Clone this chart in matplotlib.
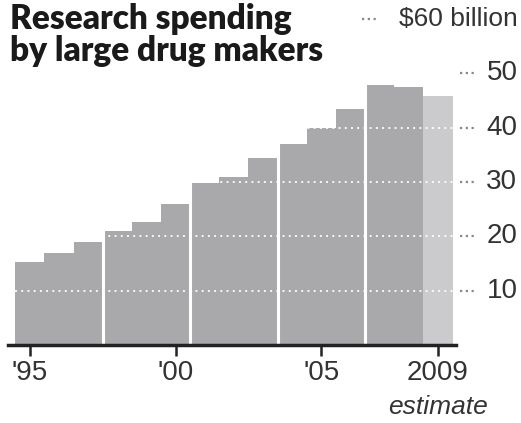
import matplotlib
matplotlib.use('Agg')
import matplotlib.pyplot as plt
import matplotlib.transforms as mtransforms

# R&D spending by large drug makers, billions of dollars (2009 is an estimate)
years = [1995, 1996, 1997, 1998, 1999, 2000, 2001, 2002, 2003, 2004,
         2005, 2006, 2007, 2008, 2009]
spending = [15.2, 16.9, 19.0, 21.0, 22.7, 26.0, 29.8, 31.0, 34.5, 37.0,
            39.9, 43.4, 47.9, 47.4, 45.8]
estimated = [False] * 14 + [True]

grid_values = [10, 20, 30, 40, 50]
tick_years = [1995, 2000, 2005, 2009]
tick_labels = ["'95", "'00", "'05", "2009"]

bar_color = '#a9a9ab'
est_color = '#cbcbcd'
text_color = '#333333'

plt.rcParams['font.family'] = ['Liberation Sans', 'DejaVu Sans']

fig = plt.figure(figsize=(5.21, 4.23), dpi=100)
ax = fig.add_axes([8 / 521, (423 - 345) / 423, 448 / 521, (345 - 19) / 423])

colors = [est_color if e else bar_color for e in estimated]
ax.bar(years, spending, width=1.0, color=colors, linewidth=0, zorder=1)

# white separators every three years
for x in [1997.5, 2000.5, 2003.5, 2006.5]:
    ax.axvline(x, color='white', linewidth=2.2, zorder=2)

ax.set_xlim(1994.25, 2009.62)
ax.set_ylim(0, 60)

# dotted gridlines: white over the bars, grey dots leading to the labels
trans = mtransforms.blended_transform_factory(ax.transAxes, ax.transData)
for v in grid_values:
    ax.plot([years[0] - 0.5, years[-1] + 0.5], [v, v], color='white',
            linestyle=(0, (1, 2.2)), linewidth=1.4, alpha=0.9, zorder=3)
    ax.plot([1.01, 1.04], [v, v], color='#888888', linestyle=(0, (1, 1.6)),
            linewidth=1.6, transform=trans, clip_on=False)
    ax.text(1.137, v, str(v), transform=trans, ha='right', va='center',
            fontsize=20, color=text_color)

# top label
ax.plot([0.79, 0.825], [60, 60], color='#888888', linestyle=(0, (1, 1.6)),
        linewidth=1.6, transform=trans, clip_on=False)
ax.text(1.137, 60, '$60 billion', transform=trans, ha='right', va='center',
        fontsize=19, color=text_color)

for s in ['top', 'right', 'left']:
    ax.spines[s].set_visible(False)
ax.spines['bottom'].set_linewidth(2.5)
ax.spines['bottom'].set_color('#222222')
ax.set_yticks([])
ax.set_xticks(tick_years)
ax.set_xticklabels(tick_labels, fontsize=20, color=text_color)
ax.tick_params(axis='x', direction='out', length=8, width=1.8,
               color='#222222', pad=3)

ax.text(2009, -11.5, 'estimate', ha='center', va='center', fontsize=19,
        style='italic', color=text_color)

fig.text(10 / 521, 1 - 3 / 423, 'Research spending\nby large drug makers',
         ha='left', va='top', fontsize=24, fontweight='heavy',
         family=['Lato', 'Liberation Sans'], color='#1a1a1a',
         linespacing=1.0)

fig.savefig('out.png', dpi=100)
